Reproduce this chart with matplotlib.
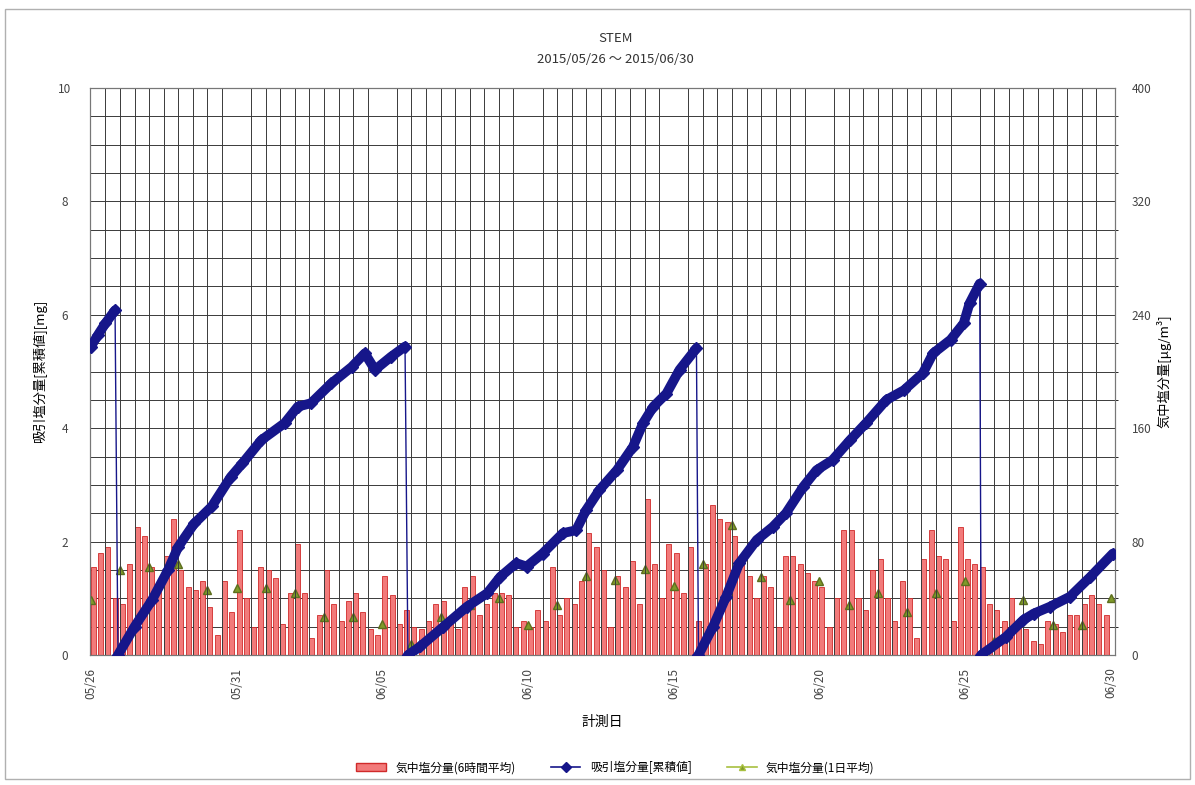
import numpy as np
import matplotlib
matplotlib.use("Agg")
import matplotlib.pyplot as plt
from matplotlib.lines import Line2D
from matplotlib.patches import Patch, Rectangle

plt.rcParams['font.family'] = ['Noto Sans CJK JP', 'DejaVu Sans']

# days since 2015/05/26 00:00
date_ticks = [0, 5, 10, 15, 20, 25, 30, 35]
date_labels = ["05/26", "05/31", "06/05", "06/10", "06/15", "06/20", "06/25", "06/30"]

# air salt, 6 hour average [ug/m3], 4 per day from 05/26
air_6h = [62, 72, 76, 40,  36, 64, 90, 84,  62, 48, 70, 96,  60, 48, 46, 52,
          34, 14, 52, 30,  88, 40, 20, 62,  60, 54, 22, 44,  78, 44, 12, 28,
          60, 36, 24, 38,  44, 30, 18, 14,  56, 42, 22, 32,  20, 18, 24, 36,
          38, 24, 18, 48,  56, 28, 36, 44,  44, 42, 20, 24,  20, 32, 24, 62,
          28, 40, 36, 52,  86, 76, 60, 20,  56, 48, 66, 36, 110, 64, 40, 78,
          72, 44, 76, 24,  64, 106, 96, 94, 84, 68, 56, 40,  56, 48, 20, 70,
          70, 64, 58, 52,  48, 20, 40, 88,  88, 40, 32, 60,  68, 40, 24, 52,
          40, 12, 68, 88,  70, 68, 24, 90,  68, 64, 62, 36,  32, 24, 40, 20,
          18, 10, 8, 24,   22, 16, 28, 28,  36, 42, 36, 28]

# air salt, daily average [ug/m3]
air_day = [39, 60, 62, 64, 46, 47, 47, 44, 27, 27, 22, 8, 27, 35, 40, 21, 35, 56,
           53, 61, 49, 64, 92, 55, 39, 52, 35, 44, 30, 44, 52, 10, 39, 21, 21, 40]

# sucked salt, cumulative [mg]
cum_day = [0.0, 0.25, 0.5, 0.83,
           0.93, 1.5, 2.1, 2.65, 3.0, 3.55, 4.15, 4.8, 5.2, 5.85, 6.65, 7.1, 7.55,
           8.25, 8.95, 9.4, 9.75, 10.3, 10.78,
           10.88, 11.3, 12.1, 12.9, 13.6, 14.05, 14.6, 14.95, 15.5, 16.2, 16.65, 17.0,
           17.45, 18.05, 18.6, 18.95, 19.3, 19.75, 20.2, 20.78,
           20.85, 21.35, 21.8, 22.25, 22.85, 23.4, 23.85, 24.45, 24.9, 25.45, 26.05,
           26.6, 27.3, 27.9, 28.55, 28.9, 29.5, 29.95, 30.15, 30.5,
           30.55, 31.4, 32.0, 32.35, 32.9, 33.6, 34.3, 35.07]
cum_val = [5.44, 5.65, 5.85, 6.08,
           0.0, 0.5, 0.97, 1.5, 1.91, 2.32, 2.62, 3.14, 3.38, 3.79, 4.09, 4.38, 4.44,
           4.79, 5.08, 5.32, 5.03, 5.26, 5.44,
           0.0, 0.15, 0.5, 0.85, 1.09, 1.38, 1.62, 1.56, 1.79, 2.15, 2.2, 2.56,
           2.91, 3.26, 3.67, 4.09, 4.38, 4.61, 5.03, 5.41,
           0.0, 0.5, 1.03, 1.62, 2.03, 2.26, 2.5, 2.97, 3.26, 3.44, 3.79,
           4.09, 4.5, 4.67, 4.97, 5.32, 5.56, 5.85, 6.2, 6.55,
           0.0, 0.32, 0.62, 0.73, 0.85, 1.03, 1.38, 1.79]

navy = '#16168a'
bar_face = '#f27a7a'
bar_edge = '#d02a2a'
tri_col = '#7f9a2a'
grid_col = '#3a3a3a'

fig = plt.figure(figsize=(11.95, 7.85), dpi=100)
fig.patches.append(Rectangle((0.004, 0.008), 0.992, 0.98, transform=fig.transFigure,
                             fill=False, edgecolor='#b0b0b0', lw=1.0))
ax = fig.add_axes([0.0753, 0.1656, 0.8577, 0.7223])
ax2 = ax.twinx()

# bars and daily average on the right axis
t6 = np.arange(len(air_6h)) * 0.25
ax2.bar(t6, air_6h, width=0.17, align='edge', color=bar_face, edgecolor=bar_edge, lw=0.6, zorder=2)
ax2.plot(np.arange(len(air_day)), air_day, ls='none', marker='^', ms=6,
         color=tri_col, markeredgecolor='#5d6e1e', zorder=3)
ax2.set_ylim(0, 400)
ax2.set_yticks(np.arange(0, 401, 80))
ax2.set_yticks(np.arange(0, 401, 20), minor=True)
ax2.grid(True, which='both', axis='y', color=grid_col, lw=0.7, zorder=0)
ax2.set_axisbelow(True)
ax2.set_ylabel('気中塩分量[μg/m³]', fontsize=9.5, labelpad=4)

# cumulative line on the left axis, drawn above
ax.set_zorder(ax2.get_zorder() + 1)
ax.patch.set_visible(False)
ax.set_xticks(np.arange(0, 35.2, 0.5), minor=True)
ax.grid(True, which='minor', axis='x', color=grid_col, lw=0.7, zorder=0)
ax.tick_params(axis='x', which='minor', length=0)

cd = np.array(cum_day)
cv = np.array(cum_val)
brk = np.where(np.diff(cv) < -1)[0] + 1
thick_d = np.insert(cd, brk, np.nan)
thick_v = np.insert(cv, brk, np.nan)
ax.plot(cd, cv, color=navy, lw=1.0, zorder=3)
ax.plot(thick_d, thick_v, color=navy, lw=7, solid_capstyle='round', zorder=4)
ax.plot(cd, cv, ls='none', marker='D', ms=6.5, color=navy, zorder=5)
ax.set_ylim(0, 10)
ax.set_yticks(np.arange(0, 11, 2))
ax.set_xlim(-0.03, 35.14)
ax.set_xticks(date_ticks)
ax.set_xticklabels(date_labels, rotation=90)
ax.set_ylabel('吸引塩分量[累積値][mg]', fontsize=9.5, labelpad=8)
ax.set_xlabel('計測日', fontsize=10, labelpad=12)

for a in (ax, ax2):
    a.tick_params(which='major', labelsize=8.5, colors='#444444', length=0, pad=12)
    for s in a.spines.values():
        s.set_color('#777777')
        s.set_linewidth(0.8)
ax.tick_params(axis='x', pad=9)
ax.tick_params(axis='y', pad=18)
for lab in ax.get_yticklabels():
    lab.set_horizontalalignment('center')

fig.text(0.515, 0.946, 'STEM', ha='center', fontsize=9.5, color='#333333')
fig.text(0.515, 0.920, '2015/05/26 ～ 2015/06/30', ha='center', fontsize=9.5, color='#333333')

handles = [Patch(facecolor=bar_face, edgecolor=bar_edge),
           Line2D([], [], color=navy, lw=1.2, marker='D', ms=5),
           Line2D([], [], color='#a8c040', lw=1.2, marker='^', ms=5, markerfacecolor=tri_col)]
labels = ['気中塩分量(6時間平均)', '吸引塩分量[累積値]', '気中塩分量(1日平均)']
fig.legend(handles, labels, loc='center', bbox_to_anchor=(0.515, 0.022), ncol=3,
           frameon=False, fontsize=8.5, handlelength=2.5, columnspacing=3)

fig.savefig('out.png', dpi=100)
